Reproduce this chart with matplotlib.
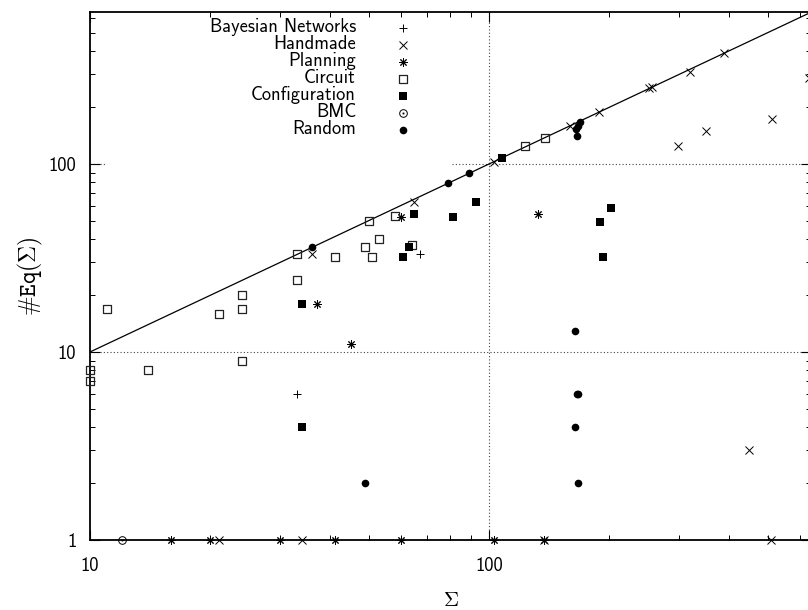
import numpy as np
import matplotlib
matplotlib.use("Agg")
import matplotlib.pyplot as plt
from matplotlib.path import Path
from matplotlib.ticker import LogLocator, NullFormatter, FuncFormatter

plt.rcParams['font.family'] = ['cmss10', 'DejaVu Sans']
plt.rcParams['mathtext.fontset'] = 'cm'
plt.rcParams['axes.unicode_minus'] = False

# data: (size of Sigma, #Eq(Sigma))
bayes_x = [67, 33]
bayes_y = [33, 6]

hand_x = [36, 65, 103, 160, 189, 252, 256, 318, 388, 297, 350, 511, 448, 632, 21, 34, 137, 510]
hand_y = [33, 63, 103, 160, 189, 252, 256, 309, 388, 125, 150, 173, 3, 285, 1, 1, 1, 1]

plan_x = [37, 45, 60, 133, 16, 20, 30, 41, 60, 103, 137]
plan_y = [18, 11, 52, 54, 1, 1, 1, 1, 1, 1, 1]

circ_x = [11, 10, 10, 14, 21, 24, 24, 24, 33, 33, 41, 49, 50, 51, 53, 58, 64, 123, 138]
circ_y = [17, 8, 7, 8, 16, 20, 17, 9, 33, 24, 32, 36, 50, 32, 40, 53, 37, 124, 138]

conf_x = [34, 34, 61, 63, 65, 81, 93, 108, 190, 193, 202]
conf_y = [18, 4, 32, 36, 54, 52, 63, 108, 49, 32, 58]

bmc_x = [12]
bmc_y = [1]

rand_x = [36, 49, 79, 89, 166, 165, 167, 169, 164, 166, 167, 164, 167]
rand_y = [36, 2, 79, 89, 140, 153, 160, 168, 13, 6, 6, 4, 2]

diag = [10, 650]

# custom markers: boxed dot and circled dot
codes = [Path.MOVETO, Path.LINETO, Path.LINETO, Path.LINETO, Path.CLOSEPOLY]
sq = Path([(-1, -1), (1, -1), (1, 1), (-1, 1), (-1, -1)], codes)
dot = Path([(-.12, -.12), (.12, -.12), (.12, .12), (-.12, .12), (-.12, -.12)], codes)
boxdot = Path.make_compound_path(sq, dot)
circdot = Path.make_compound_path(Path.unit_circle(), dot)

ew = 0.7
series = [
    ("Bayesian Networks", bayes_x, bayes_y, dict(marker='+', ms=6, mew=ew, color='k')),
    ("Handmade", hand_x, hand_y, dict(marker='x', ms=5.5, mew=ew, color='k')),
    ("Planning", plan_x, plan_y, dict(marker=(8, 2, 0), ms=6, mew=ew, color='k')),
    ("Circuit", circ_x, circ_y, dict(marker=boxdot, ms=5.8, mew=0.9, mfc='none', mec='#222222')),
    ("Configuration", conf_x, conf_y, dict(marker='s', ms=5.5, mew=0, color='k')),
    ("BMC", bmc_x, bmc_y, dict(marker=circdot, ms=5.5, mew=ew, mfc='none', mec='k')),
    ("Random", rand_x, rand_y, dict(marker='o', ms=5.5, mew=0, color='k')),
]

fig = plt.figure(figsize=(8.08, 6.10), dpi=100)
ax = fig.add_axes([90 / 808, 70 / 610, 721 / 808, 528 / 610])
ax.set_xscale('log')
ax.set_yscale('log')
ax.set_xlim(10, 641)
ax.set_ylim(1, 643)

# dotted grid (the key box hides part of the y=100 line)
gs = dict(color='#444444', lw=0.8, ls=(0, (1, 2)), zorder=1)
ax.axvline(100, **gs)
ax.axhline(10, **gs)
ax.axhline(100, xmin=0, xmax=0.021, **gs)
ax.axhline(100, xmin=0.502, xmax=1, **gs)

ax.plot(diag, diag, color='k', lw=0.9, zorder=2)

for label, xs, ys, st in series:
    ax.plot(xs, ys, ls='none', clip_on=False, zorder=3, **st)

# key: label right-aligned, sample to the right
for i, (label, xs, ys, st) in enumerate(series):
    yk = 0.9697 - i * 17 / 528
    ax.text(0.369, yk - 4.5 / 528, label, transform=ax.transAxes,
            ha='right', va='baseline', fontsize=13.3)
    ax.plot([0.434], [yk], transform=ax.transAxes, ls='none', clip_on=False, **st)

for axis in (ax.xaxis, ax.yaxis):
    axis.set_major_locator(LogLocator(base=10))
    axis.set_minor_locator(LogLocator(base=10, subs=np.arange(2, 10)))
    axis.set_major_formatter(FuncFormatter(lambda v, p: '%g' % v))
    axis.set_minor_formatter(NullFormatter())

ax.tick_params(which='both', direction='in', top=True, right=True)
ax.tick_params(which='major', length=7, width=0.8, labelsize=13.3)
ax.tick_params(axis='x', which='major', pad=12)
ax.tick_params(axis='y', which='major', pad=10)
ax.tick_params(which='minor', length=3.5, width=0.7)
for s in ax.spines.values():
    s.set_linewidth(1.3)

ax.set_xlabel(r'$\Sigma$', fontsize=15, va='center')
ax.xaxis.set_label_coords(0.5, -0.114)
ax.set_ylabel(r'$\#\mathtt{Eq}(\Sigma)$', fontsize=17, va='center')
ax.yaxis.set_label_coords(-0.083, 0.5)

fig.savefig('out.png', dpi=100)
